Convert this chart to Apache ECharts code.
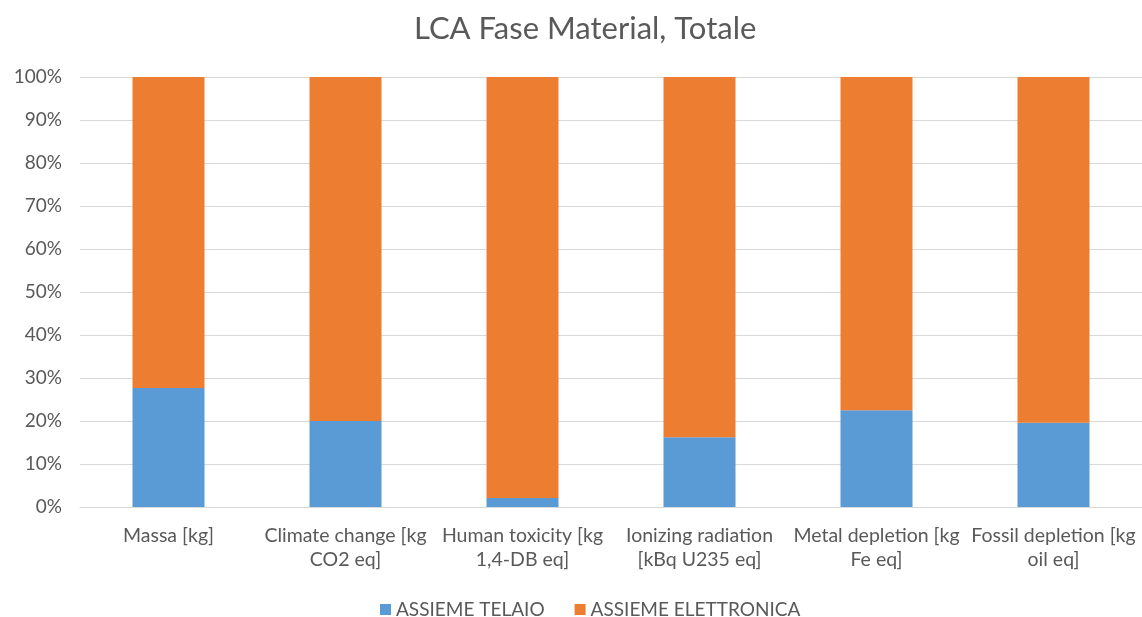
<!DOCTYPE html>
<html>
<head>
<meta charset="utf-8">
<script src="https://cdn.jsdelivr.net/npm/echarts@6/dist/echarts.min.js"></script>
<style>
  html, body { margin: 0; padding: 0; background: #fff; }
  #chart { width: 1142px; height: 617px; }
</style>
</head>
<body>
<div id="chart"></div>
<script>
// Impact categories (labels wrapped as shown under the axis)
const categories = [
  'Massa [kg]',
  'Climate change [kg\nCO2 eq]',
  'Human toxicity [kg\n1,4-DB eq]',
  'Ionizing radiation\n[kBq U235 eq]',
  'Metal depletion [kg\nFe eq]',
  'Fossil depletion [kg\noil eq]'
];

// Share of each assembly, in percent
const telaio = [27.7, 20.0, 2.1, 16.2, 22.5, 19.6];
const elettronica = [72.3, 80.0, 97.9, 83.8, 77.5, 80.4];

const seriesNames = ['ASSIEME TELAIO', 'ASSIEME ELETTRONICA'];
const titleText = 'LCA Fase Material, Totale';

const font = 'Lato, "Liberation Sans", sans-serif';
const textColor = '#595959';

const chart = echarts.init(document.getElementById('chart'));
chart.setOption({
  animation: false,
  textStyle: { fontFamily: font },
  title: {
    text: titleText,
    left: 409,
    top: 8,
    textStyle: { fontFamily: font, fontSize: 31, fontWeight: 'normal', color: textColor }
  },
  legend: {
    bottom: -7,
    left: 375,
    itemWidth: 11,
    itemHeight: 11,
    itemGap: 30,
    icon: 'rect',
    textStyle: { fontFamily: font, fontSize: 19, color: textColor },
    data: seriesNames
  },
  grid: { left: 80, right: 0, top: 77, bottom: 110, containLabel: false },
  xAxis: {
    type: 'category',
    data: categories,
    axisLine: { lineStyle: { color: '#D9D9D9' } },
    axisTick: { show: false },
    axisLabel: {
      interval: 0,
      color: textColor,
      fontFamily: font,
      fontSize: 19.5,
      lineHeight: 24,
      margin: 17
    }
  },
  yAxis: {
    type: 'value',
    min: 0,
    max: 100,
    interval: 10,
    axisLine: { show: false },
    axisTick: { show: false },
    splitLine: { lineStyle: { color: '#D9D9D9' } },
    axisLabel: {
      formatter: '{value}%',
      color: textColor,
      fontFamily: font,
      fontSize: 19,
      margin: 18
    }
  },
  series: [
    {
      name: seriesNames[0],
      type: 'bar',
      stack: 'total',
      barWidth: 72,
      itemStyle: { color: '#5B9BD5' },
      data: telaio
    },
    {
      name: seriesNames[1],
      type: 'bar',
      stack: 'total',
      barWidth: 72,
      itemStyle: { color: '#ED7D31' },
      data: elettronica
    }
  ]
});
</script>
</body>
</html>
